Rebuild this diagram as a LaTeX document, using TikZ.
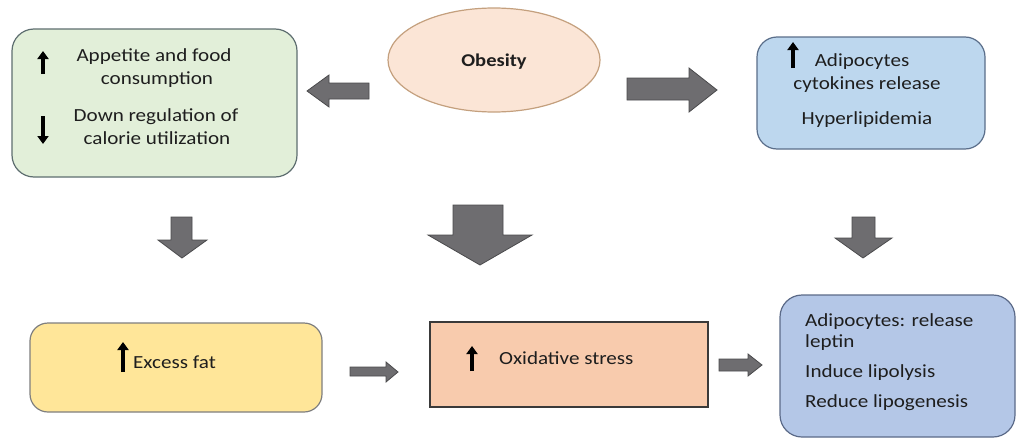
\documentclass[tikz,border=0pt]{standalone}
\usepackage{fontspec}
\setmainfont{Carlito}
\newfontfamily\calib[FakeStretch=1.14]{Carlito}
\usetikzlibrary{shapes.geometric,arrows.meta}
\definecolor{greenfill}{HTML}{E2EFD9}
\definecolor{greenline}{HTML}{5E6E70}
\definecolor{ovalfill}{HTML}{FBE5D6}
\definecolor{ovalline}{HTML}{C4A07E}
\definecolor{bluefill}{HTML}{BDD7EE}
\definecolor{blueline}{HTML}{5A6E8A}
\definecolor{yellowfill}{HTML}{FFE699}
\definecolor{yellowline}{HTML}{7F7F7F}
\definecolor{peachfill}{HTML}{F8CBAD}
\definecolor{peachline}{HTML}{3A3A3A}
\definecolor{lavfill}{HTML}{B4C7E7}
\definecolor{lavline}{HTML}{5B6A88}
\definecolor{arrfill}{HTML}{6E6D70}
\definecolor{arrline}{HTML}{4A4A4C}
\definecolor{txt}{HTML}{1E1E1E}
\tikzset{
  box/.style={draw, line width=1.2pt, inner sep=0pt},
  lbl/.style={inner sep=0pt, text=txt, font=\calib\fontsize{18.5}{22}\selectfont},
  blockarr/.style={fill=arrfill, draw=arrline, line width=0.8pt, line join=miter},
  glypharr/.style={draw=black, line width=4pt, -{Triangle[width=11pt,length=8pt]}}
}
\begin{document}
\begin{tikzpicture}[x=1pt,y=-1pt]
\useasboundingbox (0,0) rectangle (1019,439);
\fill[white] (0,0) rectangle (1019,439);
% boxes
\node[box, rounded corners=22pt, fill=greenfill, draw=greenline, minimum width=285pt, minimum height=148pt] (green) at (154.5,103) {};
\node[box, ellipse, fill=ovalfill, draw=ovalline, minimum width=212pt, minimum height=104pt] (obesity) at (494,60) {};
\node[box, rounded corners=20pt, fill=bluefill, draw=blueline, minimum width=228pt, minimum height=112pt] (blue) at (871,93) {};
\node[box, rounded corners=18pt, fill=yellowfill, draw=yellowline, minimum width=292pt, minimum height=89pt] (yellow) at (176,367.5) {};
\node[box, fill=peachfill, draw=peachline, minimum width=278pt, minimum height=85pt] (peach) at (569,364.5) {};
\node[box, rounded corners=22pt, fill=lavfill, draw=lavline, minimum width=235pt, minimum height=142pt] (lav) at (897.5,366) {};
% texts
\node[lbl, font=\calib\bfseries\fontsize{18}{22}\selectfont] (tob) at (494,62) {Obesity};
\node[lbl] (t1) at (154,57) {Appetite and food};
\node[lbl] (t2) at (157,80) {consumption};
\node[lbl] (t3) at (156,117) {Down regulation of};
\node[lbl] (t4) at (157,138) {calorie utilization};
\node[lbl] (t5) at (862,62) {Adipocytes};
\node[lbl] (t6) at (867,85) {cytokines release};
\node[lbl] (t7) at (867,120) {Hyperlipidemia};
\node[lbl, anchor=west] (t8) at (133,362) {Excess fat};
\node[lbl, anchor=west] (t9) at (499,358) {Oxidative stress};
\node[lbl, anchor=west] (t10) at (805,322) {Adipocytes: release};
\node[lbl, anchor=west] (t11) at (805,343) {leptin};
\node[lbl, anchor=west] (t12) at (805,373) {Induce lipolysis};
\node[lbl, anchor=west] (t13) at (805,403) {Reduce lipogenesis};
% glyph arrows
\draw[glypharr] (43,74) -- (43,51);
\draw[glypharr] (43,116) -- (43,144);
\draw[glypharr] (793,68) -- (793,42);
\draw[glypharr] (123,372) -- (123,342);
\draw[glypharr] (472,371) -- (472,346);
% block arrows
\draw[blockarr] (369,83) -- (329,83) -- (329,75) -- (307,91) -- (329,107) -- (329,99) -- (369,99) -- cycle;
\draw[blockarr] (627,78) -- (689,78) -- (689,68) -- (717,90) -- (689,112) -- (689,100) -- (627,100) -- cycle;
\draw[blockarr] (171,217) -- (192,217) -- (192,240) -- (207,240) -- (182,258) -- (158,240) -- (171,240) -- cycle;
\draw[blockarr] (453,205) -- (503,205) -- (503,235) -- (532,235) -- (480,265) -- (428,235) -- (453,235) -- cycle;
\draw[blockarr] (852,217) -- (875,217) -- (875,238) -- (892,238) -- (863,258) -- (835,238) -- (852,238) -- cycle;
\draw[blockarr] (350,367) -- (386,367) -- (386,362) -- (398,372) -- (386,382) -- (386,376) -- (350,376) -- cycle;
\draw[blockarr] (719,359) -- (748,359) -- (748,354) -- (762,365) -- (748,376) -- (748,371) -- (719,371) -- cycle;
\end{tikzpicture}
\end{document}
